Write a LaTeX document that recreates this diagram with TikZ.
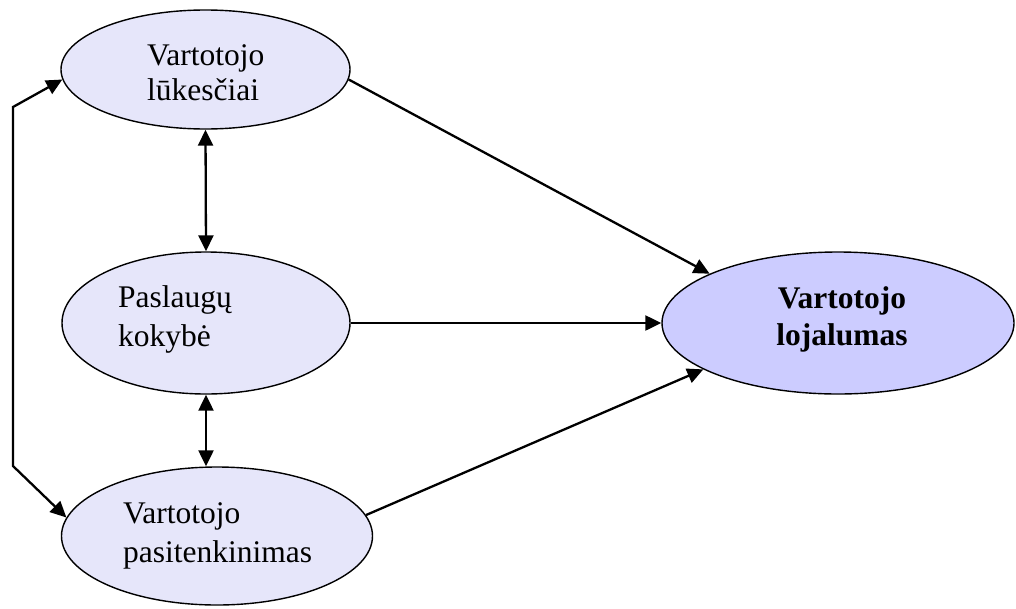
\documentclass[tikz,border=0pt]{standalone}
\usepackage{fontspec}
\setmainfont{Liberation Serif}
\usetikzlibrary{shapes.geometric,arrows.meta}
\definecolor{lightfill}{RGB}{230,230,250}
\definecolor{darkfill}{RGB}{204,204,255}
\begin{document}
\begin{tikzpicture}[x=1pt,y=-1pt,
  oval/.style={ellipse,draw=black,line width=1.4pt,fill=lightfill,inner sep=0pt},
  txt/.style={font=\fontsize{31.5}{37}\selectfont,inner sep=0pt,anchor=base west},
  btxt/.style={font=\fontsize{31.5}{37}\selectfont\bfseries,inner sep=0pt,anchor=base},
  conn/.style={line width=2.3pt,-{Triangle[length=16pt,width=15pt]}},
  dconn/.style={line width=2.3pt,{Triangle[length=16pt,width=15pt]}-{Triangle[length=16pt,width=15pt]}}
]
\useasboundingbox (0,0) rectangle (1016,608);
\node[oval,minimum width=289pt,minimum height=119pt] (top) at (205.5,69.5) {};
\node[oval,minimum width=288pt,minimum height=142pt] (mid) at (206,323) {};
\node[oval,minimum width=311pt,minimum height=138pt] (bot) at (217,536) {};
\node[oval,fill=darkfill,minimum width=352pt,minimum height=142pt] (res) at (838,323) {};

\node[txt] (t1) at (147,65) {Vartotojo};
\node[txt] (t2) at (147,100) {lūkesčiai};
\node[txt] (m1) at (118,307) {Paslaugų};
\node[txt] (m2) at (118,346) {kokybė};
\node[txt] (b1) at (123,523) {Vartotojo};
\node[txt] (b2) at (123,562) {pasitenkinimas};
\node[btxt] (r1) at (842,308) {Vartotojo};
\node[btxt] (r2) at (842,345) {lojalumas};

\coordinate (c1) at (13,107);
\coordinate (c2) at (13,466);

\draw[conn] (top.-4.8) -- (res.159);
\draw[conn] (mid.east) -- (res.west);
\draw[conn] (bot.8) -- (res.199.7);
\draw[dconn] (top.south) -- (mid.north);
\draw[dconn] (mid.south) -- (mid.south |- bot.north);
\draw[dconn] (top.184.7) -- (c1) -- (c2) -- (bot.173);
\end{tikzpicture}
\end{document}
